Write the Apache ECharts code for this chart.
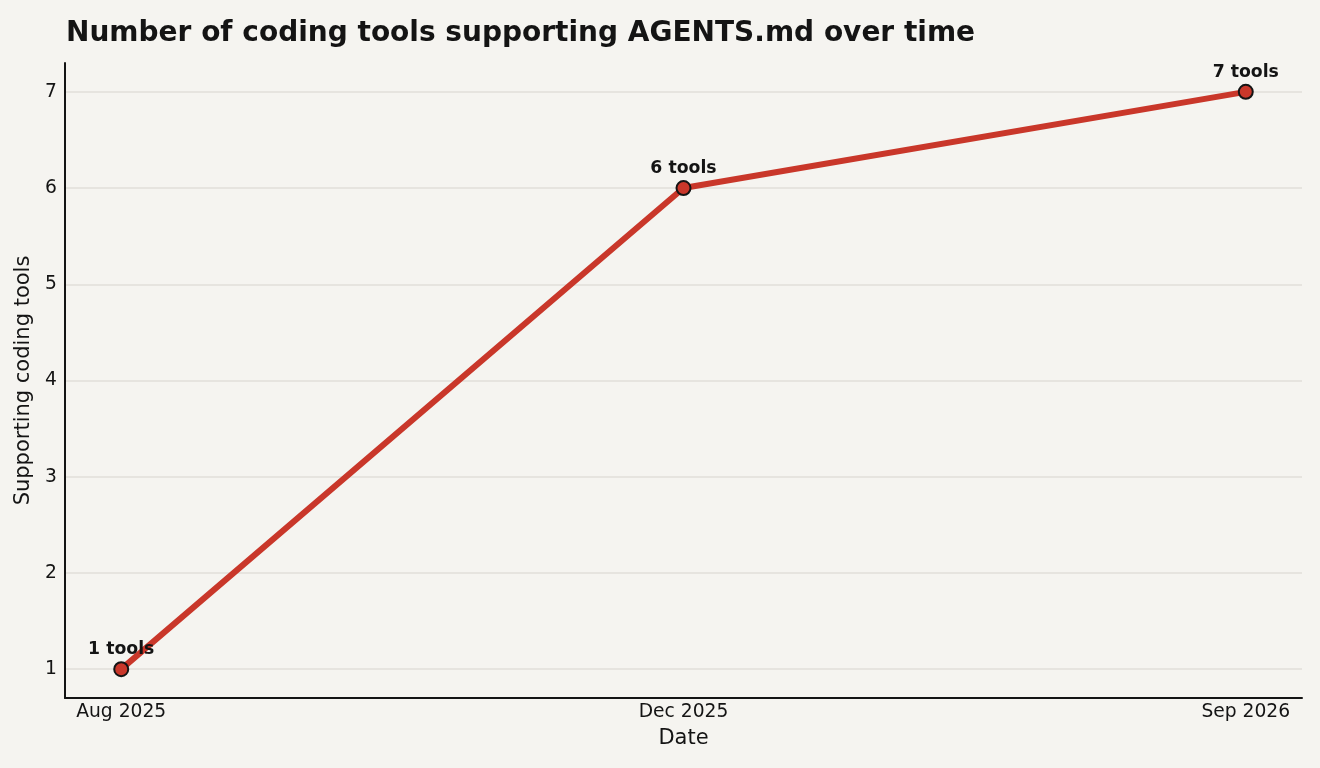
<!DOCTYPE html>
<html>
<head>
<meta charset="utf-8">
<title>AGENTS.md adoption</title>
<script src="https://cdn.jsdelivr.net/npm/echarts@6/dist/echarts.min.js"></script>
<style>
    html, body { margin: 0; padding: 0; background: #f5f4f0; }
    #chart { width: 1320px; height: 768px; }
</style>
</head>
<body>
<div id="chart"></div>
<script>
// data
var dates = ['Aug 2025', 'Dec 2025', 'Sep 2026'];
var toolCounts = [1, 6, 7];
var yTicks = [1, 2, 3, 4, 5, 6, 7];

var font = 'DejaVu Sans';
var ink = '#141414';

var lineData = [];
for (var i = 0; i < toolCounts.length; i++) {
    lineData.push([i, toolCounts[i]]); // x = position of the date, y = count
}

var myChart = echarts.init(document.getElementById('chart'));
var option = {
    backgroundColor: '#f5f4f0',
    animation: false,
    title: {
        text: 'Number of coding tools supporting AGENTS.md over time',
        left: 61,
        top: 15,
        textStyle: { fontFamily: font, fontSize: 28, fontWeight: 'bold', color: ink }
    },
    grid: {
        left: 65,
        right: 18,
        top: 63,
        bottom: 70,
        containLabel: false
    },
    xAxis: {
        type: 'value',
        min: -0.1,
        max: 2.1,
        name: 'Date',
        nameLocation: 'middle',
        nameGap: 30,
        nameTextStyle: { fontFamily: font, fontSize: 21, color: ink },
        axisLine: { show: true, onZero: false, lineStyle: { color: ink, width: 2 } },
        axisTick: { show: false, customValues: [0, 1, 2] },
        splitLine: { show: false },
        axisLabel: {
            customValues: [0, 1, 2],
            margin: 5,
            fontFamily: font,
            fontSize: 18.7,
            color: ink,
            formatter: function (v) { return dates[Math.round(v)]; }
        }
    },
    yAxis: {
        type: 'value',
        min: 0.7,
        max: 7.3,
        name: 'Supporting coding tools',
        nameLocation: 'middle',
        nameGap: 27,
        nameTextStyle: { fontFamily: font, fontSize: 21, color: ink },
        axisLine: { show: true, onZero: false, lineStyle: { color: ink, width: 2 } },
        axisTick: { show: false, customValues: yTicks },
        splitLine: { show: true, lineStyle: { color: '#e0dfda', width: 1.5 } },
        axisLabel: {
            customValues: yTicks,
            margin: 8,
            fontFamily: font,
            fontSize: 18.7,
            color: ink
        }
    },
    series: [
        {
            name: 'Supporting tools',
            type: 'line',
            data: lineData,
            symbol: 'circle',
            symbolSize: 14,
            lineStyle: { color: '#c9372a', width: 6 },
            itemStyle: { color: '#c9372a', borderColor: ink, borderWidth: 2 },
            label: {
                show: true,
                position: 'top',
                distance: 3,
                fontFamily: font,
                fontSize: 17.3,
                fontWeight: 'bold',
                color: ink,
                formatter: function (p) { return p.value[1] + ' tools'; }
            }
        }
    ]
};
myChart.setOption(option);
</script>
</body>
</html>
